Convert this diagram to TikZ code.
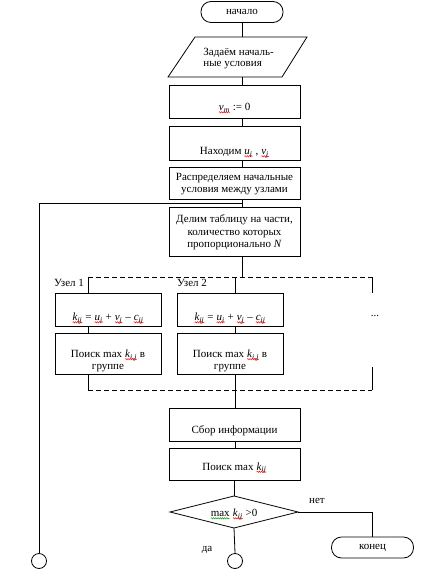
\documentclass[tikz,border=0pt]{standalone}
\usepackage{fontspec}
\setmainfont{Liberation Serif}
\usetikzlibrary{shapes.geometric,decorations.pathmorphing}
\newcommand\wv[2]{\tikz[baseline=(w.base),x=1pt,y=1pt]{\node[inner sep=0pt,outer sep=0pt,draw=none](w){#2};\draw[#1,line width=0.45pt,decorate,decoration={snake,amplitude=0.7pt,segment length=2.2pt}] ([yshift=-1.8pt]w.base west) -- ([yshift=-1.8pt]w.base east);}}
\newcommand\rw[1]{\wv{red}{#1}}
\newcommand\gw[1]{\wv{green!60!black}{#1}}
\newcommand\mv[2]{\textit{#1}\textsubscript{\textit{#2}}}
\begin{document}
\begin{tikzpicture}[x=1pt,y=-1pt,
  font=\fontsize{11}{12.5}\selectfont,
  line width=0.8pt,
  boxnode/.style={draw, rectangle, minimum width=131pt, inner sep=0pt},
  nodebox/.style={draw, rectangle, minimum width=106pt, inner sep=0pt},
  termnode/.style={draw, rectangle, rounded corners=10pt, minimum width=82pt, minimum height=21pt, inner sep=0pt},
  txt/.style={inner sep=0pt, align=center},
  bl/.style={inner sep=0pt, anchor=base},
  dashline/.style={dash pattern=on 5pt off 3pt},
  conn/.style={circle, draw, inner sep=0pt, minimum size=15pt}]
\useasboundingbox (0,0) rectangle (443,572);

% start
\node[termnode] (start) at (242,12) {начало};

% parallelogram
\coordinate (pa) at (195,37);
\coordinate (pb) at (307,37);
\coordinate (pc) at (282,77);
\coordinate (pd) at (168,77);
\draw (pa) -- (pb) -- (pc) -- (pd) -- cycle;
\coordinate (ptop) at (242,37);
\coordinate (pbot) at (242,77);
\node[txt, align=left, anchor=west, font=\fontsize{11}{11.5}\selectfont] (ptext) at (203,58.5) {Задаём началь-\\ные условия};

% boxes
\node[boxnode, minimum height=33pt] (b1) at (234.5,101.5) {};
\node[bl] (b1t) at (234.5,110.5) {\rw{\mv{v}{m}} := 0};
\node[boxnode, minimum height=34pt] (b2) at (234.5,143) {};
\node[bl] (b2t) at (234.5,154.5) {Находим \rw{\mv{u}{i}} , \rw{\mv{v}{j}}};
\node[boxnode, minimum height=32pt] (b3) at (234.5,183.5) {};
\node[txt] (b3t) at (234.5,184) {Распределяем начальные\\условия между узлами};
\node[boxnode, minimum height=49pt] (b4) at (234.5,231.5) {};
\node[txt] (b4t) at (234.5,232.5) {Делим таблицу на части,\\количество которых\\пропорционально \textit{N}};

% main vertical connectors (x=242)
\coordinate (m1) at (242,203);
\coordinate (dtop) at (242,277);
\draw (start.south -| ptop) -- (ptop);
\draw (pbot) -- (pbot |- b1.north);
\draw (b1.south -| ptop) -- (b2.north -| ptop);
\draw (b2.south -| ptop) -- (b3.north -| ptop);
\draw (b3.south -| ptop) -- (b4.north -| ptop);
\draw (b4.south -| ptop) -- (dtop);

% left return line
\node[conn] (lc) at (39,561) {};
\draw (m1) -- (m1 -| lc) -- (lc.north);

% dashed group
\coordinate (gtl) at (88,277);
\coordinate (gtr) at (372,277);
\coordinate (gbl) at (88,390);
\coordinate (gbr) at (372,390);
\draw[dashline] (gtl) -- (gtr);
\draw[dashline] (gbl) -- (gbr);
\draw (gtr) -- (372,293);
\draw (372,367) -- (gbr);
\node[bl] (dots) at (375,316.5) {...};

% node 1
\node[bl] (u1) at (69,286.5) {Узел 1};
\node[nodebox, minimum height=33pt] (n1a) at (108,309.5) {};
\node[bl] (n1at) at (108,320.5) {\rw{\mv{k}{ij}} = \rw{\mv{u}{i}} + \rw{\mv{v}{j}} – \rw{\mv{c}{ij}}};
\node[nodebox, minimum height=41pt] (n1b) at (108,353.5) {};
\node[txt] (n1bt) at (108,361) {Поиск max \rw{\mv{k}{i,j}} в\\группе};
\draw (gtl) -- (gtl |- n1a.north);
\draw (n1a.south -| gtl) -- (n1b.north -| gtl);
\draw (n1b.south -| gtl) -- (gbl);

% node 2
\node[bl] (u2) at (192,286.5) {Узел 2};
\node[nodebox, minimum height=33pt] (n2a) at (230,309.5) {};
\node[bl] (n2at) at (230,320.5) {\rw{\mv{k}{ij}} = \rw{\mv{u}{i}} + \rw{\mv{v}{j}} – \rw{\mv{c}{ij}}};
\node[nodebox, minimum height=41pt] (n2b) at (230,353.5) {};
\node[txt] (n2bt) at (230,361) {Поиск max \rw{\mv{k}{i,j}} в\\группе};
\coordinate (g2t) at (235,277);
\coordinate (g2b) at (235,390);
\draw (g2t) -- (g2t |- n2a.north);
\draw (n2a.south -| g2t) -- (n2b.north -| g2t);
\draw (n2b.south -| g2t) -- (g2b);

% collection
\node[boxnode, minimum height=33pt] (b5) at (234.5,424.5) {};
\node[bl] (b5t) at (234.5,433.5) {Сбор информации};
\node[boxnode, minimum height=32pt] (b6) at (234.5,464) {};
\node[bl] (b6t) at (234.5,470) {Поиск max \rw{\mv{k}{ij}}};
\draw (g2b) -- (g2b |- b5.north);
\draw (b5.south -| g2b) -- (b6.north -| g2b);

% decision
\coordinate (dT) at (234,496);
\coordinate (dR) at (298,512);
\coordinate (dB) at (234,528);
\coordinate (dL) at (170,512);
\draw (dT) -- (dR) -- (dB) -- (dL) -- cycle;
\node[bl] (dt) at (234,516.5) {\gw{max} \rw{\mv{k}{ij}} >0};
\draw (b6.south -| dT) -- (dT);

\node[termnode] (end) at (372.5,547.5) {конец};
\draw (dR) -- (dR -| end) -- (end.north);
\node[bl] (no) at (317,503.5) {нет};

\node[conn] (rc) at (235,561) {};
\draw (dB) -- (rc.north);
\node[bl] (yes) at (207,551.5) {да};
\end{tikzpicture}
\end{document}
